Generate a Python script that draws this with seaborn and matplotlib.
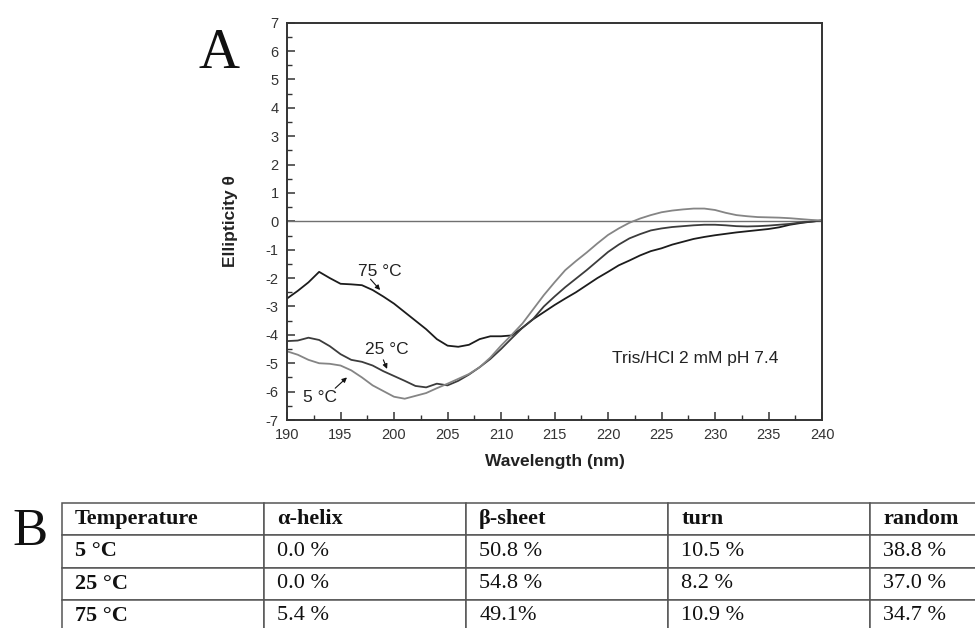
#!/usr/bin/env python3
# CD spectra at three temperatures (panel A) + secondary structure table (panel B)

import numpy as np
import pandas as pd
import seaborn as sns
import matplotlib.pyplot as plt
from matplotlib.ticker import MultipleLocator

# Wavelength grid (nm), 1 nm steps
WAVELENGTH = list(range(190, 241))

# Ellipticity
ELL_75C = [-2.72, -2.45, -2.15, -1.78, -2.00, -2.20, -2.22, -2.25, -2.42, -2.65,
           -2.90, -3.20, -3.50, -3.80, -4.15, -4.38, -4.42, -4.35, -4.15, -4.05,
           -4.05, -4.02, -3.75, -3.45, -3.20, -2.95, -2.72, -2.50, -2.25, -2.00,
           -1.78, -1.55, -1.38, -1.20, -1.05, -0.95, -0.82, -0.72, -0.62, -0.55,
           -0.49, -0.44, -0.39, -0.35, -0.31, -0.27, -0.21, -0.12, -0.06, -0.01,
           0.03]
ELL_25C = [-4.22, -4.20, -4.10, -4.18, -4.40, -4.68, -4.88, -4.95, -5.08, -5.28,
           -5.45, -5.62, -5.80, -5.85, -5.72, -5.78, -5.62, -5.40, -5.14, -4.85,
           -4.50, -4.12, -3.75, -3.44, -3.00, -2.65, -2.32, -2.02, -1.72, -1.40,
           -1.08, -0.82, -0.60, -0.45, -0.32, -0.25, -0.20, -0.17, -0.14, -0.12,
           -0.12, -0.14, -0.17, -0.18, -0.17, -0.15, -0.12, -0.09, -0.04, -0.01,
           0.03]
ELL_5C = [-4.58, -4.70, -4.88, -5.00, -5.02, -5.08, -5.25, -5.50, -5.78, -5.98,
          -6.18, -6.25, -6.15, -6.05, -5.88, -5.72, -5.55, -5.38, -5.14, -4.80,
          -4.38, -4.00, -3.60, -3.10, -2.60, -2.15, -1.72, -1.40, -1.10, -0.78,
          -0.48, -0.25, -0.05, 0.10, 0.22, 0.32, 0.38, 0.42, 0.45, 0.45,
          0.40, 0.30, 0.22, 0.18, 0.15, 0.14, 0.13, 0.11, 0.08, 0.05,
          0.03]

TEMPS = ["75 °C", "25 °C", "5 °C"]
COLORS = {"75 °C": "#1c1c1c", "25 °C": "#3c3c3c", "5 °C": "#858585"}

# Table (panel B)
TABLE_HEADER = ["Temperature", "α-helix", "β-sheet", "turn", "random"]
TABLE_TEMPS = ["5 °C", "25 °C", "75 °C"]
HELIX = ["0.0 %", "0.0 %", "5.4 %"]
SHEET = ["50.8 %", "54.8 %", "49.1%"]
TURN = ["10.5 %", "8.2 %", "10.9 %"]
RANDOM = ["38.8 %", "37.0 %", "34.7 %"]


def main():
    df = pd.concat([
        pd.DataFrame({"wavelength": WAVELENGTH, "ellipticity": vals, "temp": t})
        for t, vals in zip(TEMPS, [ELL_75C, ELL_25C, ELL_5C])
    ])

    sns.set_theme(style="ticks")
    plt.rcParams["font.family"] = ["Liberation Sans", "DejaVu Sans"]
    plt.rcParams["axes.unicode_minus"] = False

    fig = plt.figure(figsize=(9.75, 6.28), dpi=100)
    ax = fig.add_axes([0.2944, 0.3312, 0.5487, 0.6327])

    ax.axhline(0, color="#707070", lw=1.0, zorder=1)
    sns.lineplot(data=df, x="wavelength", y="ellipticity", hue="temp",
                 hue_order=TEMPS, palette=COLORS, estimator=None, sort=False,
                 legend=False, linewidth=1.3, ax=ax)

    ax.set_xlim(190, 240)
    ax.set_ylim(-7, 7)
    ax.xaxis.set_major_locator(MultipleLocator(5))
    ax.xaxis.set_minor_locator(MultipleLocator(2.5))
    ax.yaxis.set_major_locator(MultipleLocator(1))
    ax.yaxis.set_minor_locator(MultipleLocator(0.5))
    ax.tick_params(which="both", direction="in", colors="#333333",
                   labelsize=10.5, pad=6, top=False, right=False)
    ax.tick_params(which="major", length=6, width=1.1)
    ax.tick_params(which="minor", length=3.5, width=1.0)
    for side in ("top", "right", "bottom", "left"):
        ax.spines[side].set_linewidth(1.4)
        ax.spines[side].set_color("#333333")

    ax.set_xlabel("Wavelength (nm)", fontsize=12.5, fontweight="bold", color="#222222")
    ax.set_ylabel("Ellipticity θ", fontsize=12.5, fontweight="bold", color="#222222")
    ax.xaxis.set_label_coords(0.5, -0.086)
    ax.yaxis.set_label_coords(-0.092, 0.5)

    # curve labels with small arrows
    arrow = dict(arrowstyle="-|>", color="#111111", lw=0.8, mutation_scale=7,
                 shrinkA=0, shrinkB=0)
    ax.annotate("75 °C", xy=(198.7, -2.42), xytext=(198.7, -1.76),
                ha="center", va="center", fontsize=12.5, color="#222222")
    ax.annotate("", xy=(198.7, -2.42), xytext=(197.8, -2.04), arrowprops=arrow)
    ax.annotate("25 °C", xy=(199.35, -5.2), xytext=(199.35, -4.51),
                ha="center", va="center", fontsize=12.5, color="#222222")
    ax.annotate("", xy=(199.35, -5.2), xytext=(199.0, -4.88), arrowprops=arrow)
    ax.annotate("5 °C", xy=(195.6, -5.5), xytext=(193.1, -6.2),
                ha="center", va="center", fontsize=12.5, color="#222222")
    ax.annotate("", xy=(195.6, -5.5), xytext=(194.5, -5.88), arrowprops=arrow)

    ax.text(220.4, -4.82, "Tris/HCl 2 mM pH 7.4", ha="left", va="center",
            fontsize=12.5, color="#222222")

    # panel letters
    fig.text(0.204, 0.8917, "A", fontsize=41, family="Liberation Serif",
             ha="left", va="baseline", color="#111111")
    fig.text(0.0123, 0.1322, "B", fontsize=38, family="Liberation Serif",
             ha="left", va="baseline", color="#111111")

    # table, spilling past the right and bottom edges like the reference
    tax = fig.add_axes([0, 0, 1, 1])
    tax.axis("off")
    rows = [list(r) for r in zip(TABLE_TEMPS, HELIX, SHEET, TURN, RANDOM)]
    tab = tax.table(cellText=rows, colLabels=TABLE_HEADER, cellLoc="left",
                    colLoc="left", bbox=[0.0636, -0.0064, 1.0359, 0.2054])
    tab.auto_set_font_size(False)
    tab.set_fontsize(16)
    for (r, c), cell in tab.get_celld().items():
        cell.set_edgecolor("#555555")
        cell.set_linewidth(1.1)
        cell.PAD = 0.065
        txt = cell.get_text()
        txt.set_family("Liberation Serif")
        txt.set_color("#111111")
        if r == 0 or c == 0:
            txt.set_fontweight("bold")

    fig.savefig("out.png", dpi=100)


if __name__ == "__main__":
    main()
